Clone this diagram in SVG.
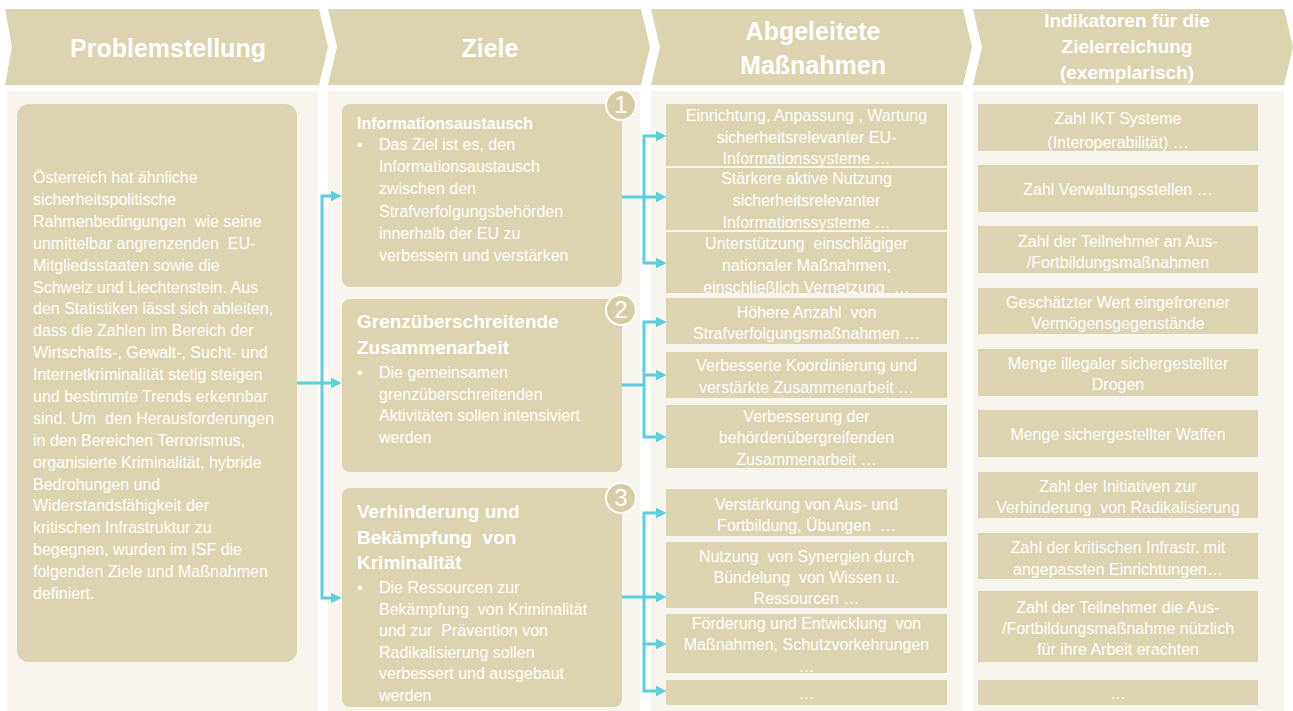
<svg xmlns="http://www.w3.org/2000/svg" width="1293" height="711" viewBox="0 0 1293 711">
<style>
text{font-family:"Liberation Sans",Arial,sans-serif;fill:#FFFFFF}
.chev{fill:#DCD3B0}
.hd{font-size:25px;font-weight:bold;text-anchor:middle}
.hd4{font-size:19px;font-weight:bold;text-anchor:middle}
.colbg{fill:#F8F5EF}
.box{fill:#DCD3B0}
.t{font-size:16px}
.c{font-size:16px;text-anchor:middle}
.tb{font-size:16px;font-weight:bold}
.tb2{font-size:19px;font-weight:bold}
.num{fill:#D6CCA6;stroke:#FFFFFF;stroke-width:2}
.numt{font-size:24px;text-anchor:middle}
.con{fill:none;stroke:#5BCFDB;stroke-width:3}
</style>
<defs>
<marker id="ah" viewBox="0 0 10 10" markerWidth="11" markerHeight="11" refX="5" refY="5" orient="auto" markerUnits="userSpaceOnUse">
<path d="M0,0 L10,5 L0,10 Z" fill="#5BCFDB"/>
</marker>
</defs>
<rect width="1293" height="711" fill="#FFFFFF"/>
<g id="headers">
<path class="chev" d="M5,9 L319,9 L328,47 L319,85 L5,85 L12,47 Z"/>
<path class="chev" d="M328,9 L641,9 L650,47 L641,85 L328,85 L337,47 Z"/>
<path class="chev" d="M651,9 L963,9 L972,47 L963,85 L651,85 L660,47 Z"/>
<path class="chev" d="M973,9 L1284,9 L1293,47 L1284,85 L973,85 L982,47 Z"/>
<text class="hd" x="168" y="57">Problemstellung</text>
<text class="hd" x="490" y="57">Ziele</text>
<text class="hd" x="813" y="40">Abgeleitete</text>
<text class="hd" x="813" y="74">Maßnahmen</text>
<text class="hd4" x="1127" y="27">Indikatoren für die</text>
<text class="hd4" x="1127" y="53">Zielerreichung</text>
<text class="hd4" x="1127" y="79">(exemplarisch)</text>
</g>
<g id="columns">
<rect class="colbg" x="7" y="91" width="311" height="620"/>
<rect class="colbg" x="328" y="91" width="312" height="620"/>
<rect class="colbg" x="651" y="91" width="311" height="620"/>
<rect class="colbg" x="973" y="91" width="311" height="620"/>
</g>
<g id="problem">
<rect class="box" x="17" y="104" width="280" height="558" rx="12"/>
<text class="t" x="33" y="183">
<tspan x="33">Österreich hat ähnliche</tspan>
<tspan x="33" dy="21.9">sicherheitspolitische</tspan>
<tspan x="33" dy="21.9">Rahmenbedingungen &#160;wie seine</tspan>
<tspan x="33" dy="21.9">unmittelbar angrenzenden &#160;EU-</tspan>
<tspan x="33" dy="21.9">Mitgliedsstaaten sowie die</tspan>
<tspan x="33" dy="21.9">Schweiz und Liechtenstein. Aus</tspan>
<tspan x="33" dy="21.9">den Statistiken lässt sich ableiten,</tspan>
<tspan x="33" dy="21.9">dass die Zahlen im Bereich der</tspan>
<tspan x="33" dy="21.9">Wirtschafts-, Gewalt-, Sucht- und</tspan>
<tspan x="33" dy="21.9">Internetkriminalität stetig steigen</tspan>
<tspan x="33" dy="21.9">und bestimmte Trends erkennbar</tspan>
<tspan x="33" dy="21.9">sind. Um &#160;den Herausforderungen</tspan>
<tspan x="33" dy="21.9">in den Bereichen Terrorismus,</tspan>
<tspan x="33" dy="21.9">organisierte Kriminalität, hybride</tspan>
<tspan x="33" dy="21.9">Bedrohungen und</tspan>
<tspan x="33" dy="21.9">Widerstandsfähigkeit der</tspan>
<tspan x="33" dy="21.9">kritischen Infrastruktur zu</tspan>
<tspan x="33" dy="21.9">begegnen, wurden im ISF die</tspan>
<tspan x="33" dy="21.9">folgenden Ziele und Maßnahmen</tspan>
<tspan x="33" dy="21.9">definiert.</tspan>
</text>
</g>
<g id="goal1">
<rect class="box" x="342" y="104" width="280" height="183" rx="8"/>
<text class="tb" x="357" y="129">Informationsaustausch</text>
<text class="t" x="357" y="150">•</text>
<text class="t" x="379" y="150">
<tspan x="379">Das Ziel ist es, den</tspan>
<tspan x="379" dy="22.2">Informationsaustausch</tspan>
<tspan x="379" dy="22.2">zwischen den</tspan>
<tspan x="379" dy="22.2">Strafverfolgungsbehörden</tspan>
<tspan x="379" dy="22.2">innerhalb der EU zu</tspan>
<tspan x="379" dy="22.2">verbessern und verstärken</tspan>
</text>
<circle class="num" cx="621" cy="105" r="15"/>
<text class="numt" x="621" y="113">1</text>
</g>
<g id="goal2">
<rect class="box" x="342" y="299" width="280" height="173" rx="8"/>
<text class="tb2" x="357" y="328">Grenzüberschreitende</text>
<text class="tb2" x="357" y="354">Zusammenarbeit</text>
<text class="t" x="357" y="378">•</text>
<text class="t" x="379" y="378">
<tspan x="379">Die gemeinsamen</tspan>
<tspan x="379" dy="21.7">grenzüberschreitenden</tspan>
<tspan x="379" dy="21.7">Aktivitäten sollen intensiviert</tspan>
<tspan x="379" dy="21.7">werden</tspan>
</text>
<circle class="num" cx="621" cy="310" r="15"/>
<text class="numt" x="621" y="318">2</text>
</g>
<g id="goal3">
<rect class="box" x="342" y="488" width="280" height="219" rx="8"/>
<text class="tb2" x="357" y="518">Verhinderung und</text>
<text class="tb2" x="357" y="544">Bekämpfung &#160;von</text>
<text class="tb2" x="357" y="569">Kriminalität</text>
<text class="t" x="357" y="593">•</text>
<text class="t" x="379" y="593">
<tspan x="379">Die Ressourcen zur</tspan>
<tspan x="379" dy="21.6">Bekämpfung &#160;von Kriminalität</tspan>
<tspan x="379" dy="21.6">und zur &#160;Prävention von</tspan>
<tspan x="379" dy="21.6">Radikalisierung sollen</tspan>
<tspan x="379" dy="21.6">verbessert und ausgebaut</tspan>
<tspan x="379" dy="21.6">werden</tspan>
</text>
<circle class="num" cx="621" cy="498" r="15"/>
<text class="numt" x="621" y="506">3</text>
</g>
<g id="m1"><rect class="box" x="666" y="104" width="281" height="62"/>
<text class="c" x="806.5" y="121">Einrichtung, Anpassung , Wartung</text>
<text class="c" x="806.5" y="143">sicherheitsrelevanter EU-</text>
<text class="c" x="806.5" y="164">Informationssysteme …</text></g>
<g id="m2"><rect class="box" x="666" y="168" width="281" height="62"/>
<text class="c" x="806.5" y="184">Stärkere aktive Nutzung</text>
<text class="c" x="806.5" y="206">sicherheitsrelevanter</text>
<text class="c" x="806.5" y="228">Informationssysteme …</text></g>
<g id="m3"><rect class="box" x="666" y="232" width="281" height="61"/>
<text class="c" x="806.5" y="249">Unterstützung &#160;einschlägiger</text>
<text class="c" x="806.5" y="271">nationaler Maßnahmen,</text>
<text class="c" x="806.5" y="293">einschließlich Vernetzung &#160;…</text></g>
<g id="m4"><rect class="box" x="666" y="298" width="281" height="46"/>
<text class="c" x="806.5" y="318">Höhere Anzahl &#160;von</text>
<text class="c" x="806.5" y="339">Strafverfolgungsmaßnahmen …</text></g>
<g id="m5"><rect class="box" x="666" y="352" width="281" height="46"/>
<text class="c" x="806.5" y="371">Verbesserte Koordinierung und</text>
<text class="c" x="806.5" y="393">verstärkte Zusammenarbeit …</text></g>
<g id="m6"><rect class="box" x="666" y="405" width="281" height="63"/>
<text class="c" x="806.5" y="422">Verbesserung der</text>
<text class="c" x="806.5" y="443">behördenübergreifenden</text>
<text class="c" x="806.5" y="465">Zusammenarbeit …</text></g>
<g id="m7"><rect class="box" x="666" y="489" width="281" height="47"/>
<text class="c" x="806.5" y="510">Verstärkung von Aus- und</text>
<text class="c" x="806.5" y="531">Fortbildung, Übungen &#160;…</text></g>
<g id="m8"><rect class="box" x="666" y="542" width="281" height="66"/>
<text class="c" x="806.5" y="562">Nutzung &#160;von Synergien durch</text>
<text class="c" x="806.5" y="583">Bündelung &#160;von Wissen u.</text>
<text class="c" x="806.5" y="604">Ressourcen …</text></g>
<g id="m9"><rect class="box" x="666" y="614" width="281" height="59"/>
<text class="c" x="806.5" y="629">Förderung und Entwicklung &#160;von</text>
<text class="c" x="806.5" y="650">Maßnahmen, Schutzvorkehrungen</text>
<text class="c" x="806.5" y="672">…</text></g>
<g id="m10"><rect class="box" x="666" y="680" width="281" height="25"/>
<text class="c" x="806.5" y="699">…</text></g>
<g id="i1"><rect class="box" x="978" y="104" width="280" height="47"/>
<text class="c" x="1118" y="124">Zahl IKT Systeme</text>
<text class="c" x="1118" y="148">(Interoperabilität) …</text></g>
<g id="i2"><rect class="box" x="978" y="165" width="280" height="47"/>
<text class="c" x="1118" y="195">Zahl Verwaltungsstellen …</text></g>
<g id="i3"><rect class="box" x="978" y="226" width="280" height="47"/>
<text class="c" x="1118" y="247">Zahl der Teilnehmer an Aus-</text>
<text class="c" x="1118" y="268">/Fortbildungsmaßnahmen</text></g>
<g id="i4"><rect class="box" x="978" y="288" width="280" height="46"/>
<text class="c" x="1118" y="308">Geschätzter Wert eingefrorener</text>
<text class="c" x="1118" y="329">Vermögensgegenstände</text></g>
<g id="i5"><rect class="box" x="978" y="349" width="280" height="47"/>
<text class="c" x="1118" y="369">Menge illegaler sichergestellter</text>
<text class="c" x="1118" y="390">Drogen</text></g>
<g id="i6"><rect class="box" x="978" y="410" width="280" height="47"/>
<text class="c" x="1118" y="440">Menge sichergestellter Waffen</text></g>
<g id="i7"><rect class="box" x="978" y="472" width="280" height="46"/>
<text class="c" x="1118" y="492">Zahl der Initiativen zur</text>
<text class="c" x="1118" y="513">Verhinderung &#160;von Radikalisierung</text></g>
<g id="i8"><rect class="box" x="978" y="533" width="280" height="46"/>
<text class="c" x="1118" y="553">Zahl der kritischen Infrastr. mit</text>
<text class="c" x="1118" y="575">angepassten Einrichtungen…</text></g>
<g id="i9"><rect class="box" x="978" y="591" width="280" height="71"/>
<text class="c" x="1118" y="613">Zahl der Teilnehmer die Aus-</text>
<text class="c" x="1118" y="634">/Fortbildungsmaßnahme nützlich</text>
<text class="c" x="1118" y="655">für ihre Arbeit erachten</text></g>
<g id="i10"><rect class="box" x="978" y="680" width="280" height="25"/>
<text class="c" x="1118" y="699">…</text></g>
<g id="connectors">
<path class="con" d="M297,383 H322 V196 H336" marker-end="url(#ah)"/>
<path class="con" d="M322,383 H336" marker-end="url(#ah)"/>
<path class="con" d="M322,383 V598 H336" marker-end="url(#ah)"/>
<path class="con" d="M622,197 H644 V136 H661" marker-end="url(#ah)"/>
<path class="con" d="M644,197 H661" marker-end="url(#ah)"/>
<path class="con" d="M644,197 V263 H661" marker-end="url(#ah)"/>
<path class="con" d="M622,385 H644"/>
<path class="con" d="M644,385 V322 H661" marker-end="url(#ah)"/>
<path class="con" d="M644,375 H661" marker-end="url(#ah)"/>
<path class="con" d="M644,385 V437 H661" marker-end="url(#ah)"/>
<path class="con" d="M622,597 H644 V513 H661" marker-end="url(#ah)"/>
<path class="con" d="M644,597 H661" marker-end="url(#ah)"/>
<path class="con" d="M644,597 V644 H661" marker-end="url(#ah)"/>
<path class="con" d="M644,644 V691 H661" marker-end="url(#ah)"/>
</g>
</svg>
